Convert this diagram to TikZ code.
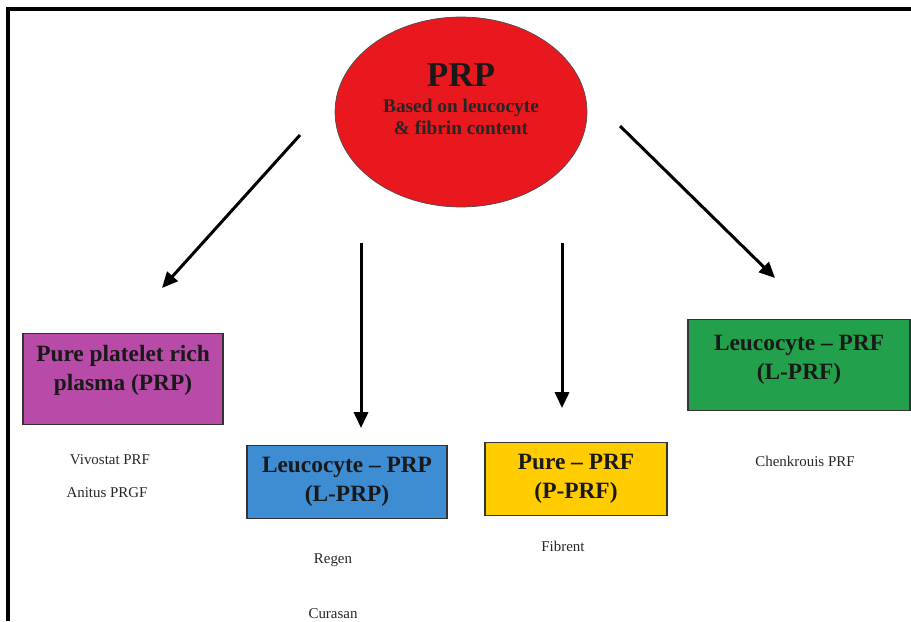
\documentclass[tikz,border=0pt]{standalone}
\usepackage{fontspec}
\setmainfont{Liberation Serif}
\usetikzlibrary{arrows.meta,positioning,shapes.geometric}
\definecolor{prpred}{RGB}{232,24,30}
\definecolor{purebox}{RGB}{184,74,168}
\definecolor{lprpbox}{RGB}{62,140,210}
\definecolor{pprfbox}{RGB}{255,204,0}
\definecolor{lprfbox}{RGB}{34,160,76}

\begin{document}
\begin{tikzpicture}[x=0.02cm, y=-0.02cm,
    cat/.style={draw=black!80, line width=0.8pt, align=center, inner sep=0pt,
        font=\fontsize{13.3}{16.5}\selectfont\bfseries, text=black!90},
    brand/.style={font=\fontsize{8.5}{10}\selectfont, text=black!85},
    arr/.style={line width=1.7pt, -{Triangle[length=9pt,width=8pt]}}]
\useasboundingbox (0,0) rectangle (911,621);
\draw[line width=2.3pt] (8,621) -- (8,9) -- (911,9);

% top classification
\node[ellipse, draw=black!70, fill=prpred, minimum width=5.04cm, minimum height=3.8cm] (prp) at (461,112) {};
\node[font=\fontsize{20}{22}\selectfont\bfseries, text=black!90] (prptitle) at (461,75) {PRP};
\node[font=\fontsize{11}{12.5}\selectfont\bfseries, text=black!85, align=center] (prpsub) at (461,117) {Based on leucocyte\\\& fibrin content};

% four families
\node[cat, fill=purebox, minimum width=4cm, minimum height=1.82cm, text depth=12.5pt] (pure) at (123,379) {Pure platelet rich\\plasma (PRP)};
\node[cat, fill=lprpbox, minimum width=4cm, minimum height=1.46cm] (lprp) at (347,482) {Leucocyte -- PRP\\(L-PRP)};
\node[cat, fill=pprfbox, minimum width=3.64cm, minimum height=1.46cm] (pprf) at (576,479) {Pure -- PRF\\(P-PRF)};
\node[cat, fill=lprfbox, minimum width=4.44cm, minimum height=1.82cm, text depth=9pt] (lprf) at (799,365) {Leucocyte -- PRF\\(L-PRF)};

% commercial systems
\node[brand] (vivo) at (110,460) {Vivostat PRF};
\node[brand] (anit) at (107,493) {Anitus PRGF};
\node[brand] (regen) at (333,560) {Regen};
\node[brand] (cura) at (333,614) {Curasan};
\node[brand] (fibr) at (563,546) {Fibrent};
\node[brand] (chen) at (805,461) {Chenkrouis PRF};

\coordinate (s1) at (300,135); \coordinate (e1) at (162,288);
\coordinate (s2) at (361,243); \coordinate (e2) at (361,428);
\coordinate (s3) at (562,243); \coordinate (e3) at (562,408);
\coordinate (s4) at (620,126); \coordinate (e4) at (775,278);
\foreach \i in {1,...,4}{
    \draw[arr] (s\i) -- (e\i);
}
\end{tikzpicture}
\end{document}
